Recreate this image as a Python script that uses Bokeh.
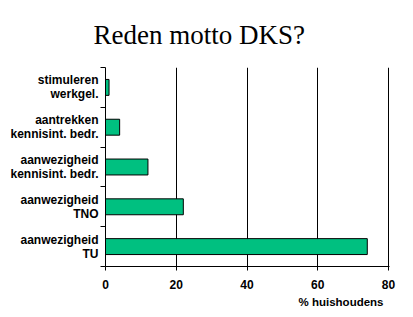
from bokeh.plotting import figure
from bokeh.models import FixedTicker, Title
from bokeh.embed import file_html
from bokeh.resources import INLINE

# categories listed bottom to top
categories = ["aanwezigheid\nTU", "aanwezigheid\nTNO", "aanwezigheid\nkennisint. bedr.",
              "aantrekken\nkennisint. bedr.", "stimuleren\nwerkgel."]
values = [74, 22, 12, 4, 1]
x_ticks = [0, 20, 40, 60, 80]
title_text = "Reden motto DKS?"
x_label = "% huishoudens"

ypos = [i + 0.5 for i in range(len(categories))]

p = figure(width=413, height=317, output_backend="svg", toolbar_location=None,
           x_range=(0, 80.28), y_range=(0, len(categories)))
p.title = Title(text=title_text, align="left", offset=-12, standoff=35,
                text_font="Liberation Serif", text_font_size="27px",
                text_font_style="normal", text_color="black", vertical_align="bottom")
p.min_border_left = 105
p.min_border_right = 24
p.min_border_top = 65
p.min_border_bottom = 51
p.outline_line_color = None
p.background_fill_color = "white"
p.border_fill_color = "white"

p.hbar(y=ypos, right=values, left=0, height=0.4, fill_color="#00C080",
       line_color="black", line_width=1)

p.ygrid.visible = False
p.xgrid.grid_line_color = "black"
p.xgrid.grid_line_width = 1

xa = p.xaxis[0]
xa.ticker = FixedTicker(ticks=x_ticks, minor_ticks=[])
xa.major_tick_out = 4
xa.major_tick_in = 0
xa.minor_tick_line_color = None
xa.axis_line_color = "black"
xa.major_label_text_font = "Liberation Sans"
xa.major_label_text_font_style = "bold"
xa.major_label_text_font_size = "12px"
xa.major_label_text_color = "black"
xa.major_label_standoff = 9

ya = p.yaxis[0]
ya.ticker = FixedTicker(ticks=ypos, minor_ticks=list(range(len(categories) + 1)))
ya.major_tick_line_color = None
ya.major_tick_out = 0
ya.major_tick_in = 0
ya.minor_tick_out = 5
ya.minor_tick_in = 0
ya.minor_tick_line_color = "black"
ya.axis_line_color = "black"
ya.major_label_overrides = {y: c for y, c in zip(ypos, categories)}
ya.major_label_text_font = "Liberation Sans"
ya.major_label_text_font_style = "bold"
ya.major_label_text_font_size = "12px"
ya.major_label_text_line_height = 1.0
ya.major_label_text_color = "black"
ya.major_label_text_align = "right"
ya.major_label_standoff = 2

xl = Title(text=x_label, align="right", offset=6, standoff=5,
           text_font="Liberation Sans", text_font_style="bold", text_font_size="11.5px",
           text_color="black")
p.add_layout(xl, "below")

open("out.html", "w").write(file_html(p, INLINE))
